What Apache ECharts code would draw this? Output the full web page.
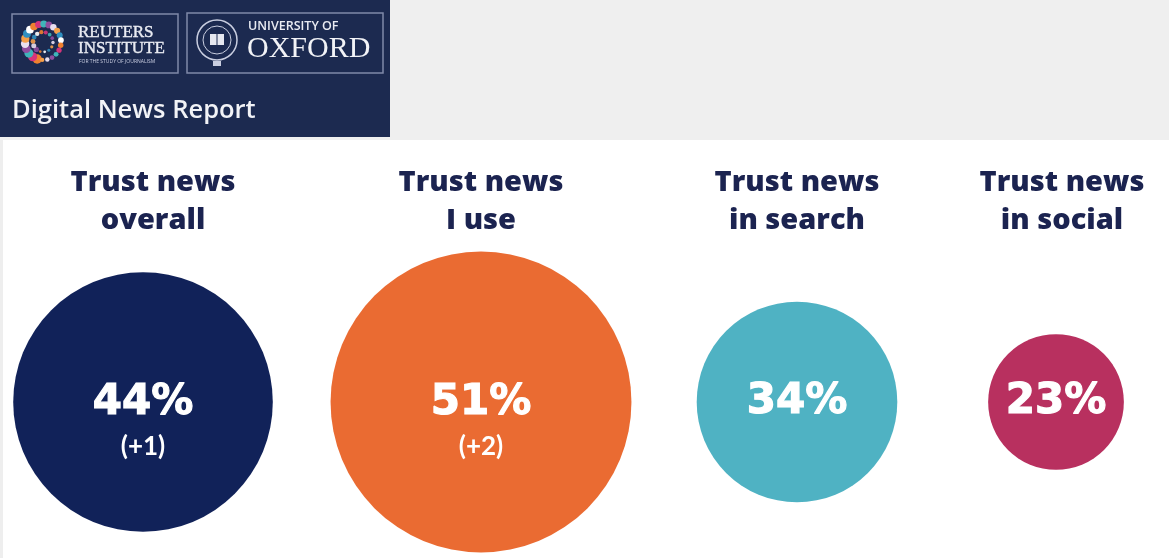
<!DOCTYPE html>
<html>
<head>
<meta charset="utf-8">
<script src="https://cdn.jsdelivr.net/npm/echarts@6/dist/echarts.min.js"></script>
<style>
  html, body { margin: 0; padding: 0; background: #ffffff; }
  #chart { width: 1169px; height: 558px; }
</style>
</head>
<body>
<div id="chart"></div>
<script>
// Trust in news, share of respondents (%), with change on previous year
const categories = ['Trust news\noverall', 'Trust news\nI use', 'Trust news\nin search', 'Trust news\nin social'];
const trustShare = [44, 51, 34, 23];
const yearChange = [1, 2, null, null];
const circleColors = ['#112259', '#ea6b32', '#4fb2c3', '#b8305f'];

// Layout: one narrow grid per column, circle diameter proportional to the share
const columnCenters = [143, 481, 797, 1063];
const titleShift = [[0, 0, 0, 20], 0, 0, [0, 0, 0, 12]];
const columnWidth = 240;
const pxPerPoint = 5.9;
const titleColor = '#1b2350';
const headerNavy = '#1c2a50';

const grids = [], xAxes = [], yAxes = [], series = [];
categories.forEach(function (cat, i) {
  grids.push({ left: columnCenters[i] - columnWidth / 2, width: columnWidth, top: 252, height: 300 });
  xAxes.push({
    type: 'category', gridIndex: i, position: 'top', data: [cat],
    axisLine: { show: false }, axisTick: { show: false }, splitLine: { show: false },
    axisLabel: {
      margin: 12, interval: 0,
      fontFamily: 'Open Sans', fontWeight: 800, fontSize: 29, lineHeight: 38,
      color: titleColor, align: 'center',
      padding: titleShift[i]
    }
  });
  yAxes.push({ type: 'value', gridIndex: i, min: -1, max: 1, show: false });
  const hasChange = yearChange[i] !== null;
  series.push({
    type: 'scatter', xAxisIndex: i, yAxisIndex: i, clip: false, silent: true,
    symbol: 'circle',
    symbolSize: function (v) { return v[2] * pxPerPoint; },
    itemStyle: { color: circleColors[i], opacity: 1 },
    data: [{
      value: [cat, 0, trustShare[i]],
      label: { offset: [0, hasChange ? 22 : 0] }
    }],
    label: {
      show: true, position: 'inside',
      formatter: function (p) {
        const c = yearChange[i];
        let s = '{v|' + p.value[2] + '%}';
        if (c !== null) s += '\n{d|(' + (c > 0 ? '+' : '') + c + ')}';
        return s;
      },
      rich: {
        v: { fontFamily: 'DejaVu Sans', fontWeight: 'bold', fontSize: 42, color: '#ffffff', lineHeight: 46,
             textBorderColor: '#ffffff', textBorderWidth: 1.2 },
        d: { fontFamily: 'Lato', fontWeight: 'bold', fontSize: 26, color: '#ffffff', lineHeight: 42 }
      }
    }
  });
});

// Header: Reuters Institute / University of Oxford banner
const graphic = [
  { type: 'rect', z: -10, shape: { x: 0, y: 0, width: 1169, height: 140 }, style: { fill: '#efefef' } },
  { type: 'rect', z: -10, shape: { x: 0, y: 140, width: 3, height: 418 }, style: { fill: '#eeeeee' } },
  { type: 'rect', z: -9, shape: { x: 0, y: 0, width: 390, height: 137 }, style: { fill: headerNavy } },
  { type: 'rect', shape: { x: 12, y: 14, width: 166, height: 59 }, style: { fill: 'none', stroke: '#7f89a8', lineWidth: 1.5 } },
  { type: 'rect', shape: { x: 187, y: 13, width: 196, height: 60 }, style: { fill: 'none', stroke: '#7f89a8', lineWidth: 1.5 } },
  { type: 'text', x: 78, y: 24, style: { text: 'REUTERS', font: '17px "Liberation Serif"', fill: '#e9ebf2', textVerticalAlign: 'top',
    stroke: '#e9ebf2', lineWidth: 0.4 } },
  { type: 'text', x: 78, y: 40, style: { text: 'INSTITUTE', font: '17px "Liberation Serif"', fill: '#e9ebf2', textVerticalAlign: 'top',
    stroke: '#e9ebf2', lineWidth: 0.4 } },
  { type: 'text', x: 79, y: 59, style: { text: 'FOR THE STUDY OF JOURNALISM', font: '5px "Open Sans"', fill: '#c9cde0', textVerticalAlign: 'top' } },
  { type: 'text', x: 248, y: 20, style: { text: 'UNIVERSITY OF', font: '600 12.5px "Open Sans"', fill: '#e9ebf2', textVerticalAlign: 'top' } },
  { type: 'text', x: 247, y: 34, style: { text: 'OXFORD', font: '30px "Liberation Serif"', fill: '#f2f3f7', textVerticalAlign: 'top' } },
  { type: 'text', x: 12, y: 98, style: { text: 'Digital News Report', font: '600 25.5px "Open Sans"', fill: '#f2f3f7', textVerticalAlign: 'top' } },
  // Oxford crest
  { type: 'circle', shape: { cx: 217, cy: 40, r: 20 }, style: { fill: 'none', stroke: '#c9cee0', lineWidth: 1.5 } },
  { type: 'circle', shape: { cx: 217, cy: 40, r: 14 }, style: { fill: 'none', stroke: '#c9cee0', lineWidth: 1 } },
  { type: 'rect', shape: { x: 210, y: 34, width: 14, height: 11 }, style: { fill: '#e6e8f0' } },
  { type: 'line', shape: { x1: 217, y1: 34, x2: 217, y2: 45 }, style: { stroke: headerNavy, lineWidth: 1 } },
  { type: 'rect', shape: { x: 213, y: 61, width: 8, height: 5 }, style: { fill: '#c9cee0' } }
];

// Reuters Institute dot ring logo
const dotPalette = ['#f0812f', '#d6347b', '#3fb4b9', '#8f4d9e', '#e9dff0', '#f4a04a', '#2f8fc0', '#ffffff'];
for (let k = 0; k < 22; k++) {
  const a = (k / 22) * Math.PI * 2 + 1.9;
  const grow = 1 - k / 26;
  graphic.push({
    type: 'circle',
    shape: { cx: 43 + 18 * Math.cos(a), cy: 42 + 18 * Math.sin(a), r: 1.5 + 3.2 * grow },
    style: { fill: dotPalette[k % dotPalette.length] }
  });
}
for (let k = 0; k < 14; k++) {
  const a = (k / 14) * Math.PI * 2 + 2.3;
  graphic.push({
    type: 'circle',
    shape: { cx: 43 + 10 * Math.cos(a), cy: 42 + 10 * Math.sin(a), r: 1 + 1.6 * (1 - k / 16) },
    style: { fill: dotPalette[(k + 3) % dotPalette.length], opacity: 0.9 }
  });
}

const chart = echarts.init(document.getElementById('chart'), null, { renderer: 'canvas' });
chart.setOption({
  backgroundColor: '#ffffff',
  animation: false,
  grid: grids,
  xAxis: xAxes,
  yAxis: yAxes,
  series: series,
  graphic: graphic
});
</script>
</body>
</html>
